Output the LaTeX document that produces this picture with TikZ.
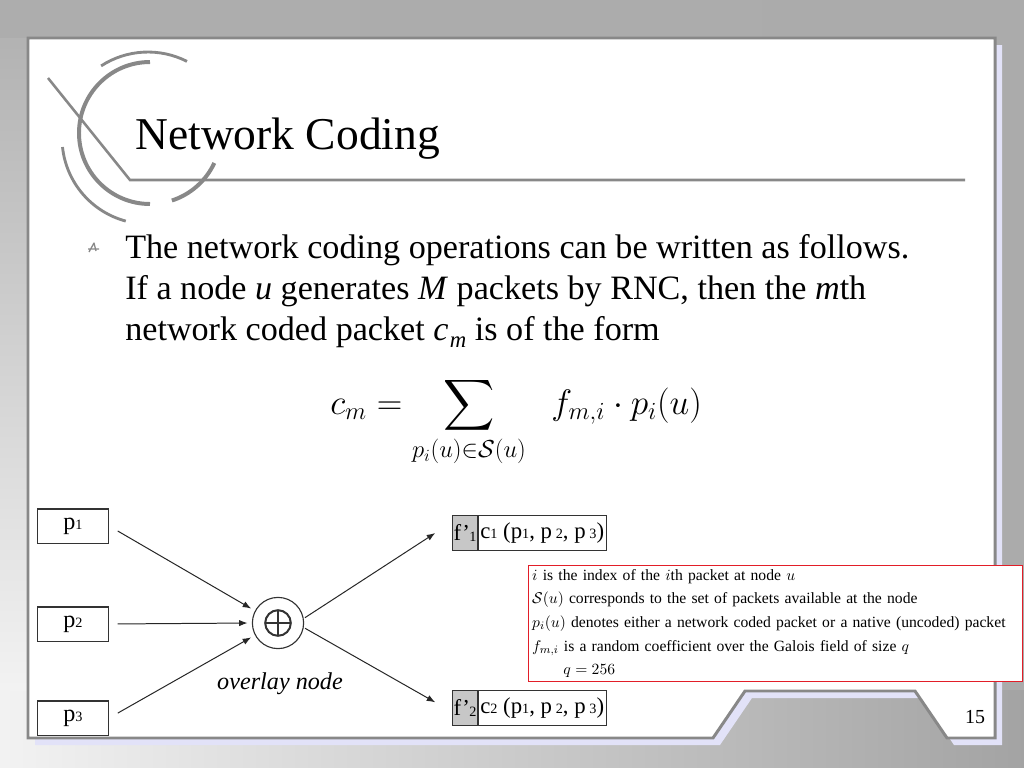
\documentclass[tikz,border=0pt]{standalone}
\usepackage{fontspec}
\setmainfont{Liberation Serif}
\usepackage{amsmath}
\usepackage{amssymb}
\usetikzlibrary{positioning,arrows.meta}

\definecolor{shadowblue}{RGB}{226,226,248}
\definecolor{decogray}{RGB}{136,136,136}
\newcommand{\dg}[1]{{\fontsize{10}{10}\selectfont #1}}

\tikzset{
  frameline/.style={draw=decogray, line width=2.1pt},
  decor/.style={draw=decogray, line width=2pt},
  pbox/.style={draw=black!80, line width=0.8pt, minimum width=50pt, minimum height=24pt, inner sep=0pt, font=\fontsize{17}{17}\selectfont},
  fcell/.style={draw=black!80, fill=black!22, line width=0.8pt, minimum width=17pt, minimum height=25pt, inner sep=0pt, font=\fontsize{16}{16}\selectfont},
  ccell/.style={draw=black!80, line width=0.8pt, minimum width=90pt, minimum height=25pt, inner sep=0pt, font=\fontsize{16}{16}\selectfont},
  sumnode/.style={circle, draw=black!80, line width=0.8pt, minimum size=36pt, path picture={
    \draw[line width=1.4pt] (path picture bounding box.center) circle[radius=9pt];
    \draw[line width=1.4pt] ([xshift=-9pt]path picture bounding box.center) -- ([xshift=9pt]path picture bounding box.center);
    \draw[line width=1.4pt] ([yshift=-9pt]path picture bounding box.center) -- ([yshift=9pt]path picture bounding box.center);}},
  flow/.style={-{Latex[length=6pt,width=4.5pt]}, line width=0.7pt, black!85},
  body/.style={anchor=base west, inner sep=0pt, font=\fontsize{24}{29}\selectfont}
}

\begin{document}
\begin{tikzpicture}[x=0.703pt, y=-0.703pt]
\useasboundingbox (0,0) rectangle (1024,768);
\shade[left color=black!32, middle color=white, right color=black!33] (0,0) rectangle (1024,768);
\shade[left color=black!5, right color=black!36] (0,690) rectangle (1024,768);
\shade[top color=black!30, bottom color=black!5] (0,38) rectangle (28,690);

\fill[shadowblue, shift={(7,7)}] (28,38) -- (995,38) -- (995,738) -- (947,738) -- (915,691) -- (745,691) -- (713,738) -- (28,738) -- cycle;
\filldraw[fill=white, frameline] (28,38) -- (995,38) -- (995,738) -- (947,738) -- (915,691) -- (745,691) -- (713,738) -- (28,738) -- cycle;

\draw[decor, line width=2.8pt] (150,62) arc[start angle=-90, end angle=-270, radius=71];
\draw[decor, line width=2.8pt] (214.3,163) arc[start angle=25, end angle=72, radius=71];
\draw[decor] (187,61.4) arc[start angle=-63, end angle=-123, radius=86];
\draw[decor] (62.5,147) arc[start angle=174, end angle=105, radius=86];
\draw[decor, line width=1.8pt] (48,78) -- (130,180) -- (965,180);

\node[anchor=base west, inner sep=0pt, font=\fontsize{32}{32}\selectfont] (title) at (135,149) {Network Coding};

\draw[decogray, line width=0.9pt, line join=round] (89,252) -- (94,243) -- (96,251) (88,249) -- (99,249);
\node[body] (line1) at (125,258) {The network coding operations can be written as follows.};
\node[body] (line2) at (125,299) {If a node \textit{u} generates \textit{M} packets by RNC, then the \textit{m}th};
\node[body] (line3) at (125,340) {network coded packet \textit{c}\kern1pt\raisebox{-5pt}{\fontsize{16}{16}\selectfont\textit{m}} is of the form};

\node[anchor=base west, inner sep=0pt, font=\fontsize{25}{30}\selectfont] (formula) at (330,414)
  {$\displaystyle c_m = \sum_{p_i(u)\in\mathcal{S}(u)} \;\; f_{m,i}\cdot p_i(u)$};

\node[pbox] (p1) at (73,526) {p\dg{1}};
\node[pbox] (p2) at (73,624) {p\dg{2}};
\node[pbox] (p3) at (73,718) {p\dg{3}};
\node[sumnode] (sum) at (278,623) {};
\node[font=\fontsize{17}{17}\selectfont\itshape, inner sep=0pt] (overlay) at (280,684) {overlay node};

\node[fcell] (fone) at (465,533) {f\textquoteright\kern-0.5pt\raisebox{-1pt}{\dg{1}}};
\node[ccell, right=0pt of fone] (cone) {c\dg{1} (p\dg{1}, p\,\dg{2}, p\,\dg{3})};
\node[fcell] (ftwo) at (465,708) {f\textquoteright\kern-0.5pt\raisebox{-1pt}{\dg{2}}};
\node[ccell, right=0pt of ftwo] (ctwo) {c\dg{2} (p\dg{1}, p\,\dg{2}, p\,\dg{3})};

\draw[flow, shorten <=7pt, shorten >=3pt] (p1.east) -- (sum.152);
\draw[flow, shorten <=6pt, shorten >=3pt] (p2.east) -- (sum.180);
\draw[flow, shorten <=7pt, shorten >=3pt] (p3.east) -- (sum.208);
\draw[flow, shorten <=1pt] (sum.10) -- ([xshift=-12pt]fone.west);
\draw[flow, shorten <=1pt] (sum.350) -- ([xshift=-12pt,yshift=4pt]ftwo.west);

\node[draw={rgb,255:red,226;green,30;blue,40}, fill=white, line width=0.9pt, anchor=north west, inner sep=2.5pt, text width=342pt, align=left, font=\fontsize{11}{16.6}\selectfont] (legend) at (528,565)
  {$i$ is the index of the $i$th packet at node $u$\\
   $\mathcal{S}(u)$ corresponds to the set of packets available at the node\\
   \makebox[342pt][s]{$p_i(u)$ denotes either a network coded packet or a native (uncoded) packet}\\
   $f_{m,i}$ is a random coefficient over the Galois field of size $q$\\
   \hspace*{22pt}$q = 256$};

\node[font=\fontsize{14}{14}\selectfont, inner sep=0pt] (page) at (975,717) {15};
\end{tikzpicture}
\end{document}
